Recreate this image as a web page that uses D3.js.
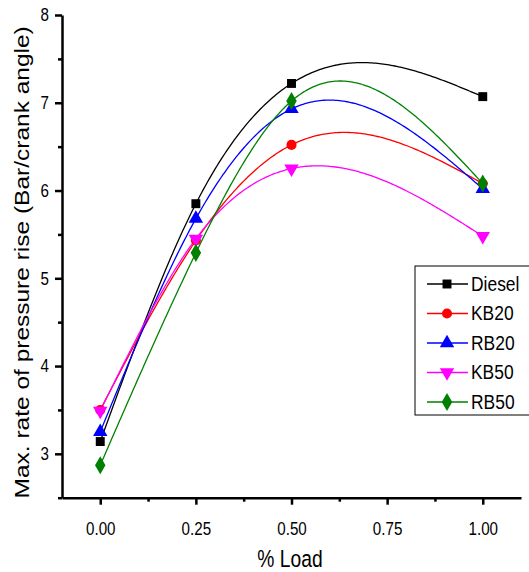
<!DOCTYPE html>
<html>
<head>
<meta charset="utf-8">
<script src="https://cdn.jsdelivr.net/npm/d3@7"></script>
<style>
  body { margin: 0; background: #fff; }
  svg text { font-family: 'Liberation Sans', Arial, sans-serif; fill: #000; }
  .sq { transform-box: fill-box; transform-origin: center; transform: scaleX(0.82); }
</style>
</head>
<body>
<div id="wrapper"></div>
<script>
// load fractions on the x axis
const loads = [0, 0.25, 0.5, 1.0]

// max rate of pressure rise, per fuel
const diesel = [3.14, 5.85, 7.22, 7.07]
const kb20 = [3.5, 5.43, 6.52, 6.08]
const rb20 = [3.25, 5.68, 6.93, 6.02]
const kb50 = [3.49, 5.45, 6.25, 5.48]
const rb50 = [2.87, 5.29, 7.02, 6.08]

const seriesNames = ['Diesel', 'KB20', 'RB20', 'KB50', 'RB50']
const seriesValues = [diesel, kb20, rb20, kb50, rb50]
const seriesColors = ['#000000', '#ff0000', '#0000ff', '#ff00ff', '#008000']
const seriesSymbols = [d3.symbolSquare, d3.symbolCircle, d3.symbolTriangle, d3.symbolTriangle, d3.symbolDiamond]
const symbolSizes = [80, 80, 90, 90, 95]

const xTicks = [0, 0.25, 0.5, 0.75, 1.0]
const xMinor = [0.125, 0.375, 0.625, 0.875]
const yTicks = [3, 4, 5, 6, 7, 8]
const yMinor = [2.5, 3.5, 4.5, 5.5, 6.5, 7.5]

const width = 529
const height = 572

// natural cubic spline through (xs, ys), returns a function of x
function naturalSpline(xs, ys) {
  const n = xs.length
  const h = d3.range(n - 1).map(i => xs[i + 1] - xs[i])
  const M = new Array(n).fill(0)
  // tridiagonal system for the interior second derivatives
  const a = [], b = [], c = [], r = []
  for (let i = 1; i < n - 1; i++) {
    a.push(h[i - 1])
    b.push(2 * (h[i - 1] + h[i]))
    c.push(h[i])
    r.push(6 * ((ys[i + 1] - ys[i]) / h[i] - (ys[i] - ys[i - 1]) / h[i - 1]))
  }
  const m = r.length
  for (let i = 1; i < m; i++) {
    const w = a[i] / b[i - 1]
    b[i] -= w * c[i - 1]
    r[i] -= w * r[i - 1]
  }
  for (let i = m - 1; i >= 0; i--) {
    M[i + 1] = (r[i] - (i < m - 1 ? c[i] * M[i + 2] : 0)) / b[i]
  }
  return x => {
    let i = Math.min(n - 2, Math.max(0, d3.bisectRight(xs, x) - 1))
    const t = x - xs[i]
    const s = (ys[i + 1] - ys[i]) / h[i] - h[i] * (2 * M[i] + M[i + 1]) / 6
    return ys[i] + s * t + M[i] * t * t / 2 + (M[i + 1] - M[i]) * t * t * t / (6 * h[i])
  }
}

const svg = d3.select('#wrapper')
  .append('svg')
  .attr('width', width)
  .attr('height', height)

const xScale = d3.scaleLinear().domain([-0.1, 1.1]).range([62, 521])
const yScale = d3.scaleLinear().domain([2.5, 8]).range([497.7, 15])

// minor ticks first (no labels)
svg.append('g')
  .attr('transform', `translate(0, ${yScale(2.5)})`)
  .call(d3.axisBottom(xScale).tickValues(xMinor).tickSize(4).tickSizeOuter(0).tickFormat(''))
  .call(g => g.select('.domain').remove())
  .selectAll('line').attr('stroke-width', 2.5)

svg.append('g')
  .attr('transform', `translate(${xScale(-0.1)}, 0)`)
  .call(d3.axisLeft(yScale).tickValues(yMinor).tickSize(4).tickSizeOuter(0).tickFormat(''))
  .call(g => g.select('.domain').remove())
  .selectAll('line').attr('stroke-width', 2.5)

// major axes
const xAxis = svg.append('g')
  .attr('transform', `translate(0, ${yScale(2.5)})`)
  .call(d3.axisBottom(xScale).tickValues(xTicks).tickSize(7).tickSizeOuter(0).tickPadding(17).tickFormat(d3.format('.2f')))
xAxis.select('.domain').attr('stroke-width', 2.5)
xAxis.selectAll('line').attr('stroke-width', 2.5)
xAxis.selectAll('text').attr('class', 'sq').attr('font-size', 18.5)

const yAxis = svg.append('g')
  .attr('transform', `translate(${xScale(-0.1)}, 0)`)
  .call(d3.axisLeft(yScale).tickValues(yTicks).tickSize(7).tickSizeOuter(0).tickPadding(6).tickFormat(d3.format('d')))
yAxis.select('.domain').attr('stroke-width', 2.5)
yAxis.selectAll('line').attr('stroke-width', 2.5)
yAxis.selectAll('text').attr('font-size', 18.5).style('transform-box', 'fill-box')
  .style('transform-origin', 'right center').style('transform', 'scaleX(0.82)')

// axis titles
svg.append('text')
  .attr('x', 290)
  .attr('y', 567)
  .attr('text-anchor', 'middle')
  .attr('font-size', 23.5)
  .attr('class', 'sq')
  .text('% Load')

svg.append('text')
  .attr('transform', `translate(29, ${(yScale(2.5) + yScale(8)) / 2 + 6}) scale(0.8, 1) rotate(-90)`)
  .attr('text-anchor', 'middle')
  .attr('font-size', 24.5)
  .text('Max. rate of pressure rise (Bar/crank angle)')

// curves: natural cubic spline in x, sampled along the load axis
const line = d3.line()
  .x(d => xScale(d[0]))
  .y(d => yScale(d[1]))

seriesValues.forEach((vals, k) => {
  const f = naturalSpline(loads, vals)
  const xs = d3.range(0, 200.5).map(j => loads[0] + (loads[loads.length - 1] - loads[0]) * j / 200)
  svg.append('path')
    .datum(xs.map(x => [x, f(x)]))
    .attr('d', line)
    .attr('fill', 'none')
    .attr('stroke', seriesColors[k])
    .attr('stroke-width', 1.3)
})

seriesValues.forEach((vals, k) => {
  svg.append('g')
    .selectAll('path')
    .data(vals)
    .join('path')
    .attr('d', d3.symbol(seriesSymbols[k], symbolSizes[k]))
    .attr('transform', (d, i) => `translate(${xScale(loads[i])}, ${yScale(d)})${k === 3 ? ' rotate(180)' : ''}`)
    .attr('fill', seriesColors[k])
})

// legend
const legend = svg.append('g').attr('transform', 'translate(415, 266)')
legend.append('rect')
  .attr('width', 120)
  .attr('height', 149)
  .attr('fill', '#fff')
  .attr('stroke', '#000')
  .attr('stroke-width', 1)

seriesNames.forEach((name, k) => {
  const yy = 18 + k * 29.5
  legend.append('line')
    .attr('x1', 12).attr('x2', 53)
    .attr('y1', yy).attr('y2', yy)
    .attr('stroke', seriesColors[k])
    .attr('stroke-width', 1.3)
  legend.append('path')
    .attr('d', d3.symbol(seriesSymbols[k], symbolSizes[k]))
    .attr('transform', `translate(32, ${yy})${k === 3 ? ' rotate(180)' : ''}`)
    .attr('fill', seriesColors[k])
  legend.append('text')
    .attr('x', 56)
    .attr('y', yy + 7)
    .attr('font-size', 20.5)
    .style('transform-box', 'fill-box')
    .style('transform-origin', 'left center')
    .style('transform', 'scaleX(0.85)')
    .text(name)
})
</script>
</body>
</html>
